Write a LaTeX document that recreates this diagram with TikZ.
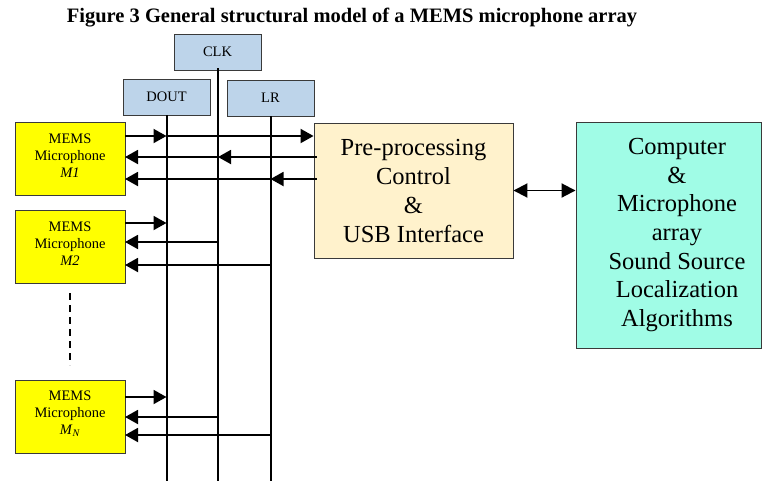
\documentclass[tikz,border=0pt]{standalone}
\usepackage{fontspec}
\setmainfont{Liberation Serif}
\usetikzlibrary{arrows.meta,calc}
\definecolor{sigblue}{HTML}{BDD4EA}
\definecolor{micyellow}{HTML}{FFFF00}
\definecolor{ppfill}{HTML}{FFF2CC}
\definecolor{compfill}{HTML}{A0FCE6}
\definecolor{edgegray}{HTML}{3A3A3A}
\begin{document}
\begin{tikzpicture}[x=1pt,y=-1pt,
  box/.style={draw=edgegray, line width=0.9pt, inner sep=0pt},
  sigbox/.style={box, fill=sigblue, minimum width=87pt, minimum height=36pt, font=\fontsize{14.5}{17}\selectfont},
  micbox/.style={box, fill=micyellow, minimum width=110pt, minimum height=73pt},
  mictext/.style={align=center, font=\fontsize{14.5}{17}\selectfont, inner sep=0pt},
  bigtext/.style={align=center, font=\fontsize{24.5}{29}\selectfont, inner sep=0pt},
  bus/.style={line width=2pt},
  arr/.style={line width=1.9pt, -{Triangle[length=13pt,width=14pt]}},
  dblarr/.style={line width=1.9pt, {Triangle[length=14pt,width=14pt]}-{Triangle[length=14pt,width=14pt]}}]
\path[use as bounding box] (0,0) rectangle (762,483);

% title
\node[font=\bfseries\fontsize{20.5}{24}\selectfont, inner sep=0pt] (title) at (352,18)
  {Figure 3 General structural model of a MEMS microphone array};

% signal boxes
\node[sigbox] (clk) at (217.5,52) {CLK};
\node[sigbox] (dout) at (166.5,97) {DOUT};
\node[sigbox] (lr) at (270.5,98) {LR};

% bus bottom ends
\coordinate (clkb) at (218,481);
\coordinate (doutb) at (166.5,481);
\coordinate (lrb) at (270.5,481);

% processing boxes
\node[box, fill=ppfill, minimum width=199pt, minimum height=135pt] (pp) at (413.5,190.5) {};
\node[bigtext] (pptext) at (413.5,191) {Pre-processing\\Control\\\&\\USB Interface};
\node[box, fill=compfill, minimum width=185pt, minimum height=226pt] (comp) at (668.5,235) {};
\node[bigtext, font=\fontsize{24.5}{28.6}\selectfont] (comptext) at (677,235)
  {Computer\\\&\\Microphone\\array\\Sound Source\\Localization\\Algorithms};

% microphones
\node[micbox] (m1) at (70,158.5) {};
\node[mictext] (m1t) at (70,155.5) {MEMS\\Microphone\\\textit{M1}};
\node[micbox] (m2) at (70,246.5) {};
\node[mictext] (m2t) at (70,243.5) {MEMS\\Microphone\\\textit{M2}};
\node[micbox] (mn) at (70,416.5) {};
\node[mictext] (mnt) at (70,413.5) {MEMS\\Microphone\\\textit{M}\textsubscript{\textit{N}}};

% dashed continuation
\coordinate (dashtop) at (70,293);
\coordinate (dashbot) at (70,365);
\draw[line width=1.4pt, dash pattern=on 7pt off 5pt] (dashtop) -- (dashbot);

% buses
\draw[bus] ([yshift=2pt]clk.south -| clkb) -- (clkb);
\draw[bus] (dout.south) -- (doutb);
\draw[bus] (lr.south) -- (lrb);

% M1 rows
\coordinate (a1) at (125,136);
\coordinate (b1) at (125,157);
\coordinate (c1) at (125,179);
\draw[arr] (a1) -- (a1 -| doutb);
\draw[arr] (a1 -| doutb) -- (a1 -| pp.west);
\draw[arr] ([xshift=3pt]b1 -| pp.west) -- (b1 -| clkb);
\draw[arr] (b1 -| clkb) -- (b1);
\draw[arr] ([xshift=3pt]c1 -| pp.west) -- (c1 -| lrb);
\draw[arr] (c1 -| lrb) -- (c1);

% M2 rows
\coordinate (a2) at (125,223);
\coordinate (b2) at (125,242);
\coordinate (c2) at (125,265);
\draw[arr] (a2) -- (a2 -| doutb);
\draw[arr] (b2 -| clkb) -- (b2);
\draw[arr] (c2 -| lrb) -- (c2);

% MN rows
\coordinate (an) at (125,397);
\coordinate (bn) at (125,417);
\coordinate (cn) at (125,435);
\draw[arr] (an) -- (an -| doutb);
\draw[arr] (bn -| clkb) -- (bn);
\draw[arr] (cn -| lrb) -- (cn);

% link between processing and computer
\draw[dblarr] (pp.east) -- (pp.east -| comp.west);
\end{tikzpicture}
\end{document}
